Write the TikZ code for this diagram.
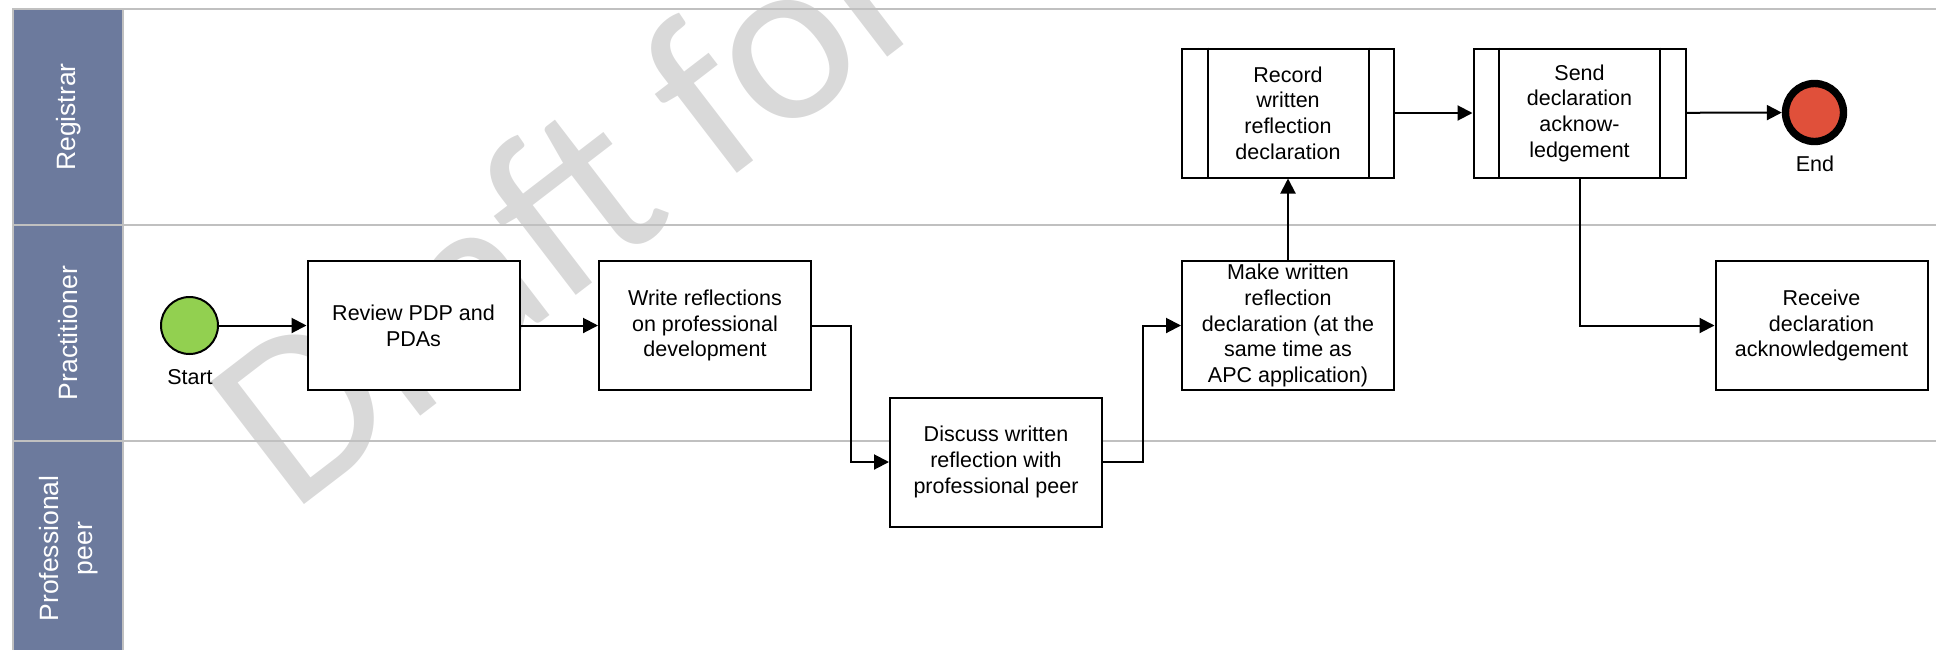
\documentclass[tikz,border=0pt]{standalone}
\usepackage{fontspec}
\setmainfont{Liberation Sans}
\newfontfamily\wmfont{Carlito}
\usetikzlibrary{arrows.meta}
\definecolor{lanehead}{RGB}{108,122,157}
\definecolor{laneline}{RGB}{192,192,192}
\definecolor{startgreen}{RGB}{146,208,80}
\definecolor{endred}{RGB}{224,80,58}
\definecolor{wmgray}{RGB}{217,217,217}
\newcommand{\boxfont}{\fontsize{21.5}{25.7}\selectfont}
\newcommand{\headfont}{\fontsize{26.5}{34}\selectfont}
\begin{document}
\begin{tikzpicture}[x=1pt,y=-1pt,
  task/.style={draw, line width=2pt, fill=white, minimum width=212pt,
    minimum height=129pt, inner sep=0pt, align=center, font=\boxfont},
  subtask/.style={task},
  lanehd/.style={rotate=90, draw=laneline, line width=2pt, fill=lanehead,
    text=white, minimum height=110pt, inner sep=0pt, align=center, font=\headfont},
  flow/.style={draw, line width=2pt, -{Triangle[length=15pt,width=15pt]}},
  evlabel/.style={font=\boxfont, inner sep=0pt}]
\useasboundingbox (0,0) rectangle (1936,649);
\clip (0,0) rectangle (1936,649);

% watermark behind everything
\node[wmgray, font=\wmfont\fontsize{240}{240}\selectfont, rotate=37.5,
  anchor=base west, inner sep=0pt] (wm) at (291,515) {Draft for};

% lanes
\draw[laneline, line width=2pt] (123.3,8.5) -- (1940,8.5);
\draw[laneline, line width=2pt] (123.3,225) -- (1940,225);
\draw[laneline, line width=2pt] (123.3,441) -- (1940,441);
\node[lanehd, minimum width=216pt] (lreg) at (68.3,117) {Registrar};
\node[lanehd, minimum width=216pt] (lpra) at (68.3,333) {Practitioner};
\node[lanehd, minimum width=215pt] (lpeer) at (68.3,548.5) {Professional\\peer};

% events
\node[circle, draw, line width=2pt, fill=startgreen, minimum size=57pt,
  inner sep=0pt] (start) at (189.5,325.5) {};
\node[evlabel] (startlbl) at (190,377) {Start};
\node[circle, draw, line width=7.4pt, fill=endred, minimum size=58pt,
  inner sep=0pt] (end) at (1814.5,112.5) {};
\node[evlabel] (endlbl) at (1815,164) {End};

% tasks
\node[task] (review) at (413.5,325.5) {Review PDP and\\PDAs};
\node[task] (write) at (705,325.5) {Write reflections\\on professional\\development};
\node[task] (discuss) at (996,462) {Discuss written\\reflection with\\professional peer};
\node[task] (make) at (1288,325.5) {Make written\\reflection\\declaration (at the\\same time as\\APC application)};
\node[task] (receive) at (1821.5,325.5) {Receive\\declaration\\acknowledgement};
\node[subtask] (record) at (1288,113) {Record\\written\\reflection\\declaration};
\node[subtask] (send) at (1579.5,113) {Send\\declaration\\acknow-\\ledgement};
\foreach \n in {record,send}{
  \draw[line width=2pt] ([xshift=26.5pt]\n.north west) -- ([xshift=26.5pt]\n.south west);
  \draw[line width=2pt] ([xshift=-26.5pt]\n.north east) -- ([xshift=-26.5pt]\n.south east);
}

% sequence flows
\draw[flow] (start) -- (review);
\draw[flow] (review) -- (write);
\draw[flow] (write.east) -- ++(39,0) |- (discuss.west);
\draw[flow] (discuss.east) -- ++(40,0) |- (make.west);
\draw[flow] (make) -- (record);
\draw[flow] (record) -- (send);
\draw[flow] (send) -- (end);
\draw[flow] (send.south) |- (receive.west);
\end{tikzpicture}
\end{document}
